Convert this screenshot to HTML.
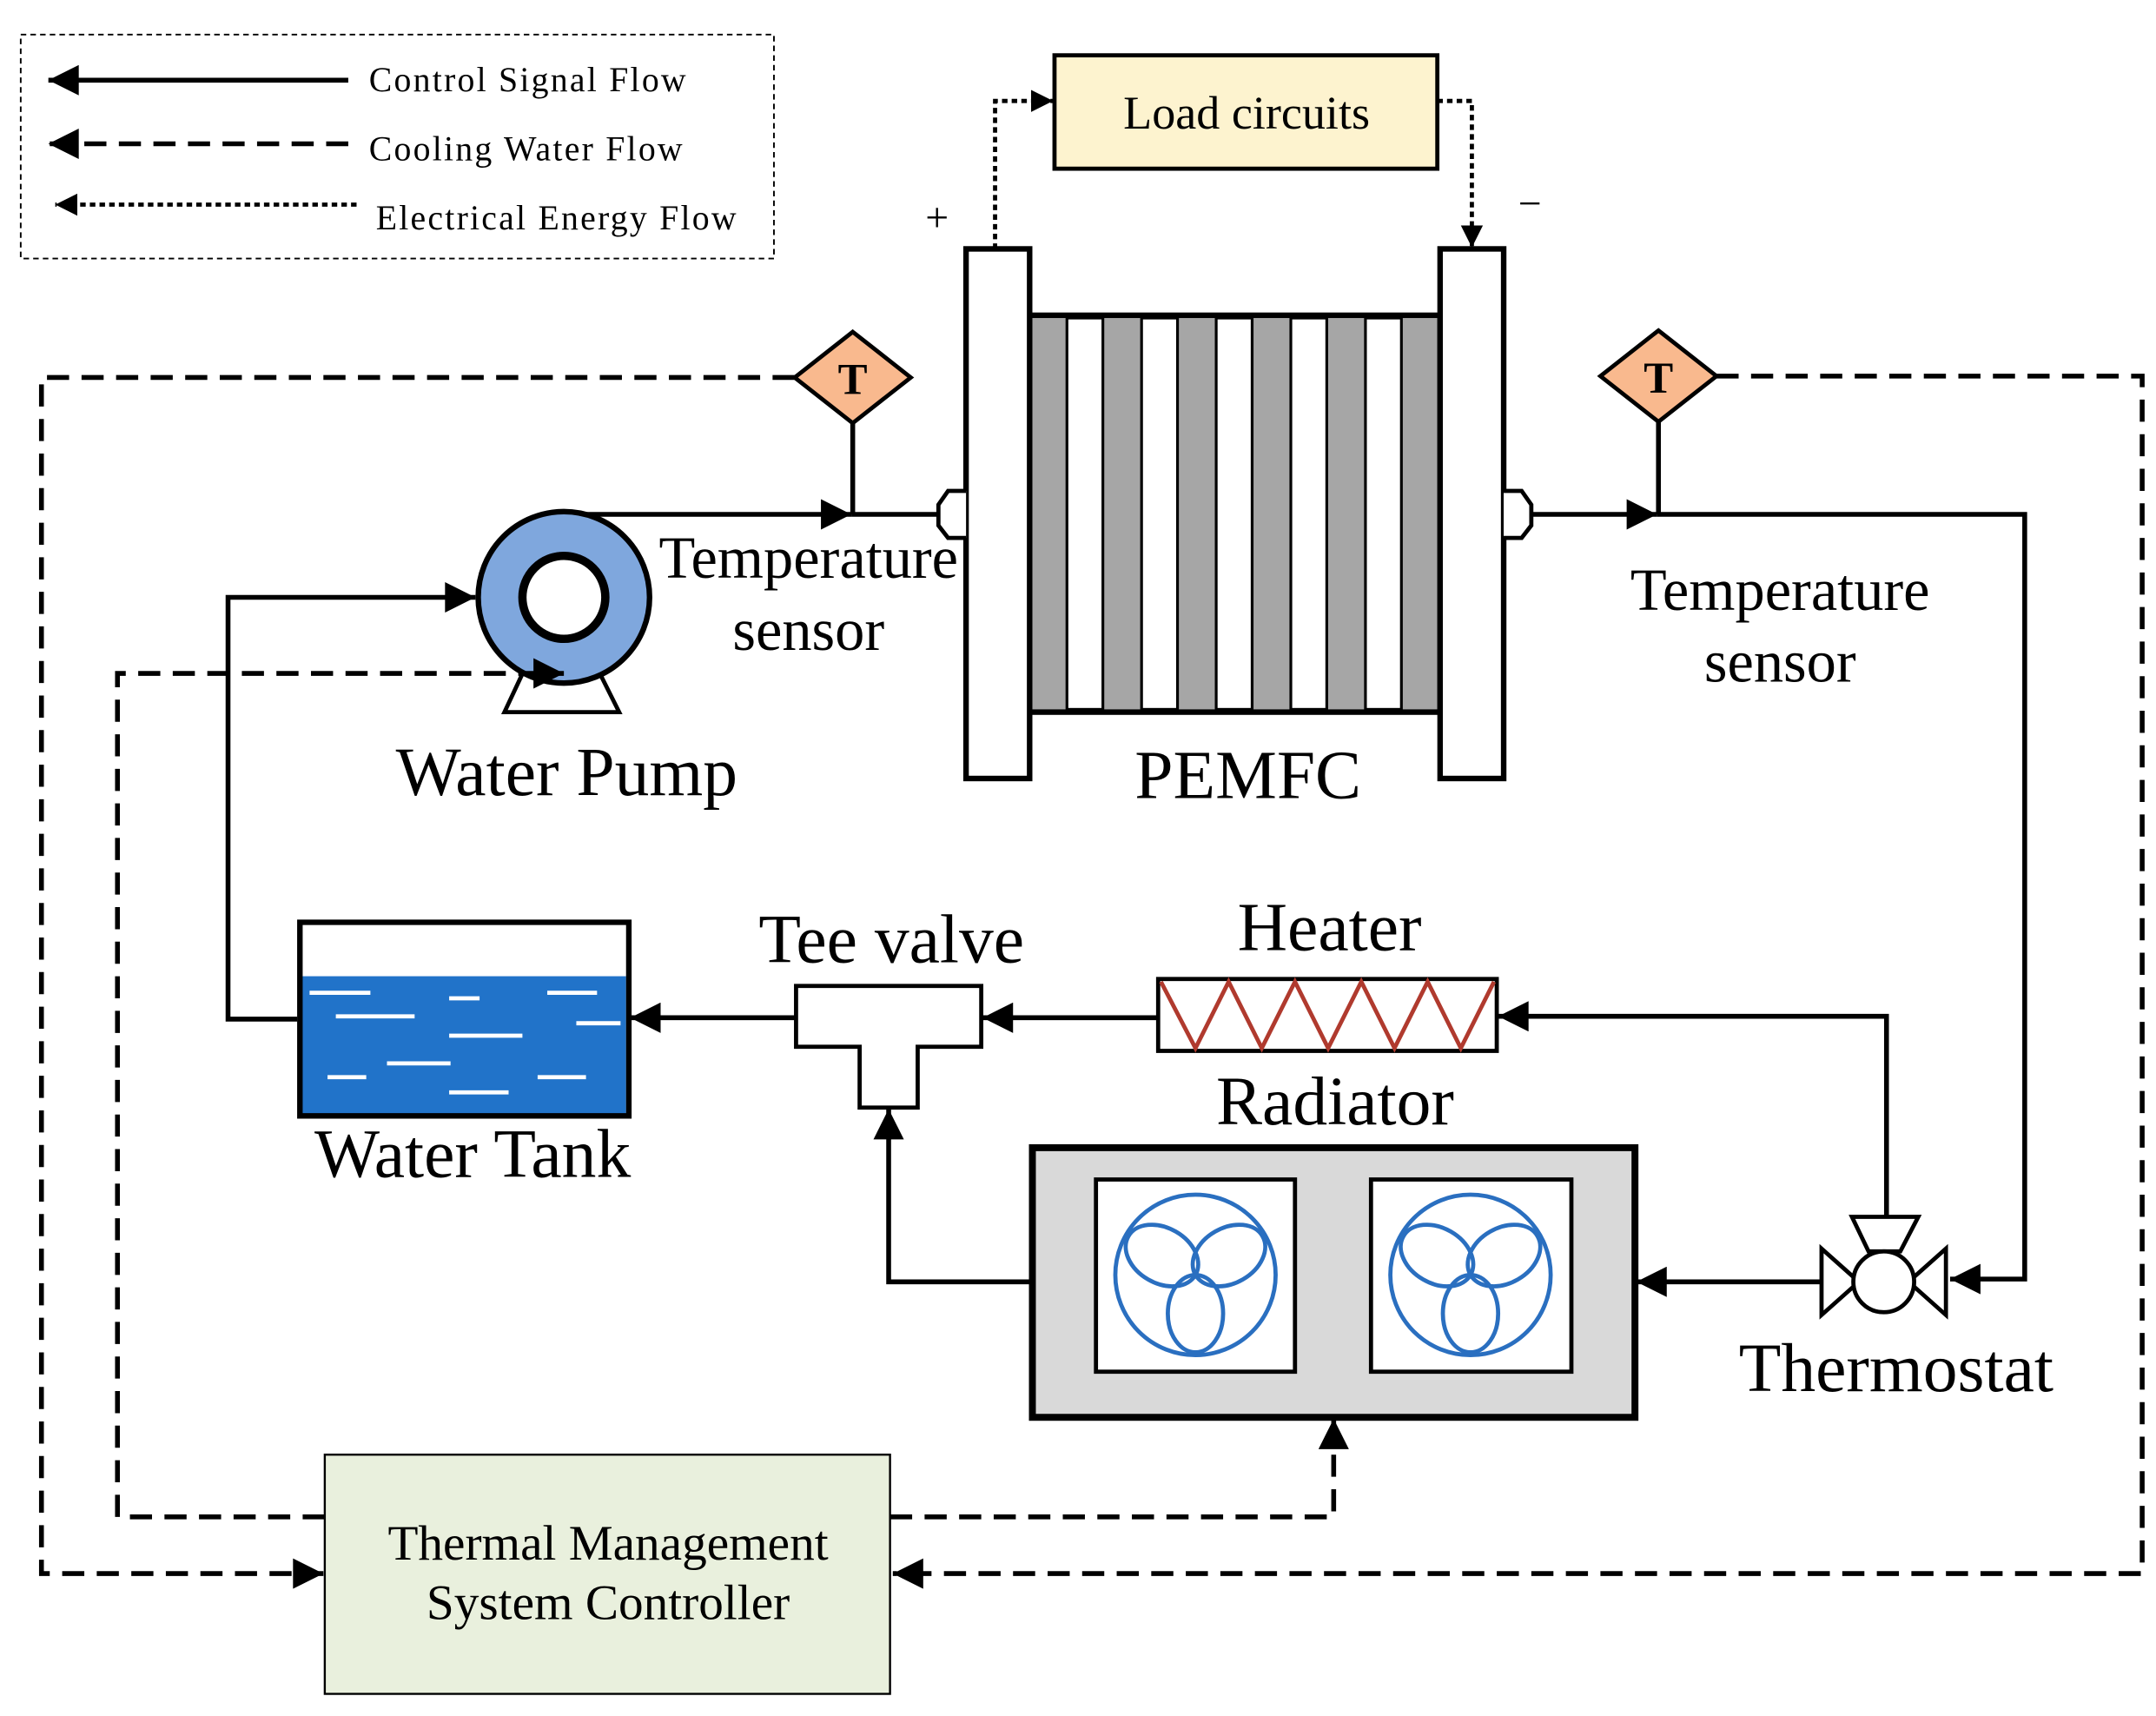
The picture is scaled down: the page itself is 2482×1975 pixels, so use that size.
<!DOCTYPE html>
<html><head><meta charset="utf-8"><style>html,body{margin:0;padding:0;background:#fff}svg{display:block}text{font-family:"Liberation Serif",serif;fill:#000}</style></head><body>
<svg width="2482" height="1975" viewBox="0 0 1560 1241" preserveAspectRatio="none" xmlns="http://www.w3.org/2000/svg">
<defs>
<marker id="b" viewBox="0 0 10 10" refX="10" refY="5" markerWidth="36" markerHeight="22" markerUnits="userSpaceOnUse" orient="auto"><path d="M0,0L10,5L0,10z" fill="#000"/></marker>
<marker id="c" viewBox="0 0 10 10" refX="10" refY="5" markerWidth="16" markerHeight="16" markerUnits="userSpaceOnUse" orient="auto"><path d="M0,0L10,5L0,10z" fill="#000"/></marker>
</defs>
<rect x="15" y="25" width="545" height="162" fill="none" stroke="#000" stroke-width="1.2" stroke-dasharray="4,3"/>
<g stroke="#000" stroke-width="3.5" fill="none">
<path d="M252,58H35" marker-end="url(#b)"/>
<path d="M252,104H35" stroke-dasharray="16,9" marker-end="url(#b)"/>
<path d="M258,148H40" stroke-width="3" stroke-dasharray="4,3" marker-end="url(#c)"/>
</g>
<g font-size="25" letter-spacing="1.4">
<text x="267" y="66">Control Signal Flow</text>
<text x="267" y="116">Cooling Water Flow</text>
<text x="272" y="166">Electrical Energy Flow</text>
</g>
<rect x="763" y="40" width="277" height="82" fill="#fdf3cf" stroke="#000" stroke-width="3"/>
<text x="902" y="93" font-size="34" text-anchor="middle">Load circuits</text>
<g stroke="#000" stroke-width="3" fill="none" stroke-dasharray="4,3">
<path d="M720,180V73H762" marker-end="url(#c)"/>
<path d="M1040,73H1065V179" marker-end="url(#c)"/>
</g>
<text x="678" y="167" font-size="30" text-anchor="middle">+</text>
<text x="1107" y="157" font-size="30" text-anchor="middle">−</text>
<rect x="745" y="228" width="297" height="287" fill="#a6a6a6" stroke="#000" stroke-width="4"/>
<g fill="#fff" stroke="#000" stroke-width="2">
<rect x="772" y="230" width="26" height="283"/><rect x="826" y="230" width="26" height="283"/><rect x="880" y="230" width="26" height="283"/><rect x="934" y="230" width="26" height="283"/><rect x="988" y="230" width="26" height="283"/>
</g>
<rect x="699" y="180" width="46" height="383" fill="#fff" stroke="#000" stroke-width="4"/>
<rect x="1042" y="180" width="46" height="383" fill="#fff" stroke="#000" stroke-width="4"/>
<path d="M699,355H686L679,365V380L686,389H699" fill="#fff" stroke="#000" stroke-width="3"/>
<path d="M1088,355H1101L1108,365V380L1101,389H1088" fill="#fff" stroke="#000" stroke-width="3"/>
<g stroke="#000" stroke-width="3.5" fill="none">
<path d="M405,372H616" marker-end="url(#b)"/><path d="M616,372H680"/>
<path d="M617,306V372"/>
<path d="M1108,372H1199" marker-end="url(#b)"/><path d="M1199,372H1465V925H1411" marker-end="url(#b)"/>
<path d="M1200,305V372"/>
<path d="M215,737H165V432H344" marker-end="url(#b)"/>
<path d="M576,736H456" marker-end="url(#b)"/>
<path d="M838,736H711" marker-end="url(#b)"/>
<path d="M1365,880V735H1084" marker-end="url(#b)"/>
<path d="M747,927H643V802" marker-end="url(#b)"/>
<path d="M1318,927H1184" marker-end="url(#b)"/>
</g>
<path d="M365,515L380,483H432L448,515Z" fill="#fff" stroke="#000" stroke-width="3"/>
<circle cx="408" cy="432" r="62" fill="#7fa7dd" stroke="#000" stroke-width="4"/>
<circle cx="408" cy="432" r="30" fill="#fff" stroke="#000" stroke-width="6"/>
<g stroke="#000" stroke-width="3.5" fill="none" stroke-dasharray="16,9">
<path d="M575,273H30V1138H234" marker-end="url(#b)"/>
<path d="M1242,272H1550V1138H646" marker-end="url(#b)"/>
<path d="M235,1097H85V487H408" marker-end="url(#b)"/>
<path d="M644,1097H965V1026" marker-end="url(#b)"/>
</g>
<path d="M617,240L659,273L617,306L575,273Z" fill="#f9b98e" stroke="#000" stroke-width="3"/>
<text x="617" y="285" font-size="32" text-anchor="middle" font-weight="bold">T</text>
<path d="M1200,239L1242,272L1200,305L1158,272Z" fill="#f9b98e" stroke="#000" stroke-width="3"/>
<text x="1200" y="284" font-size="32" text-anchor="middle" font-weight="bold">T</text>
<rect x="217" y="706" width="236" height="100" fill="#2173c9"/>
<path d="M217,706V667H455V706M217,706V807H455V706" fill="none" stroke="#000" stroke-width="4"/>
<g stroke="#fff" stroke-width="3">
<path d="M224,718H268M325,722H347M396,718H432M243,735H300M417,740H449M325,749H378M280,769H326M237,779H265M389,779H424M325,790H368"/>
</g>
<path d="M576,713H710V757H664V801H622V757H576Z" fill="#fff" stroke="#000" stroke-width="3"/>
<rect x="838" y="708" width="245" height="52" fill="#fff" stroke="#000" stroke-width="3"/>
<path d="M840,710L865,758L889,710L913,758L937,710L961,758L985,710L1009,758L1033,710L1057,758L1081,710" fill="none" stroke="#b03a2e" stroke-width="3"/>
<rect x="747" y="830" width="436" height="195" fill="#d9d9d9" stroke="#000" stroke-width="5"/>
<rect x="793" y="853" width="144" height="139" fill="#fff" stroke="#000" stroke-width="3"/>
<rect x="992" y="853" width="145" height="139" fill="#fff" stroke="#000" stroke-width="3"/>
<g fill="none" stroke="#2a6fc0" stroke-width="3">
<circle cx="865" cy="922" r="58"/>
<ellipse cx="865" cy="922" rx="28" ry="20" transform="rotate(-150 865 922) translate(28 0)"/>
<ellipse cx="865" cy="922" rx="28" ry="20" transform="rotate(-30 865 922) translate(28 0)"/>
<ellipse cx="865" cy="922" rx="28" ry="20" transform="rotate(90 865 922) translate(28 0)"/>
<circle cx="1064" cy="922" r="58"/>
<ellipse cx="1064" cy="922" rx="28" ry="20" transform="rotate(-150 1064 922) translate(28 0)"/>
<ellipse cx="1064" cy="922" rx="28" ry="20" transform="rotate(-30 1064 922) translate(28 0)"/>
<ellipse cx="1064" cy="922" rx="28" ry="20" transform="rotate(90 1064 922) translate(28 0)"/>
</g>
<g fill="#fff" stroke="#000" stroke-width="3">
<path d="M1340,880H1388L1375,905H1352Z"/>
<path d="M1318,903V951L1345,927Z"/>
<path d="M1408,903V951L1381,927Z"/>
<circle cx="1363" cy="927" r="22"/>
</g>
<rect x="235" y="1052" width="409" height="173" fill="#e9f0dd" stroke="#000" stroke-width="1.5"/>
<text x="440" y="1128" font-size="36" text-anchor="middle">Thermal Management</text>
<text x="440" y="1171" font-size="36" text-anchor="middle">System Controller</text>
<g font-size="43" text-anchor="middle">
<text x="585" y="418">Temperature</text><text x="585" y="470">sensor</text>
<text x="1288" y="441">Temperature</text><text x="1288" y="493">sensor</text>
</g>
<g font-size="50" text-anchor="middle">
<text x="410" y="575">Water Pump</text>
<text x="903" y="577">PEMFC</text>
<text x="645" y="696">Tee valve</text>
<text x="962" y="687">Heater</text>
<text x="966" y="813">Radiator</text>
<text x="342" y="851">Water Tank</text>
<text x="1372" y="1006">Thermostat</text>
</g>
</svg>
</body></html>
